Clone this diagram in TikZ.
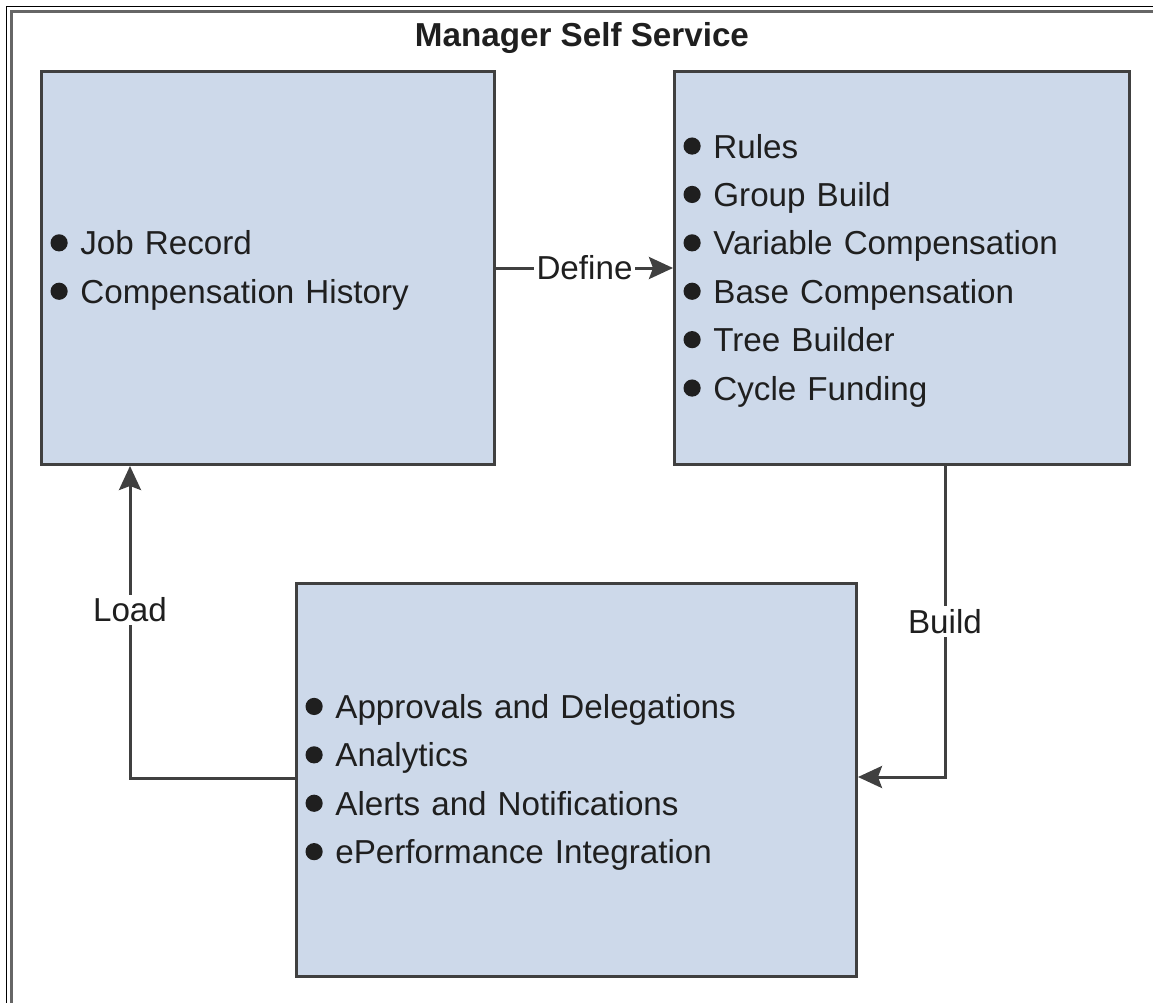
\documentclass[tikz,border=0pt]{standalone}
\usepackage{fontspec}
\setmainfont{Liberation Sans}
\usepackage{xcolor}
\usetikzlibrary{arrows.meta}

\definecolor{boxblue}{RGB}{205,217,234}
\definecolor{edgegray}{RGB}{64,64,64}
\newcommand{\bul}{\makebox[0.9em][l]{\tikz[baseline=-6pt]\fill[black!88] (4.3pt,0pt) circle[radius=4.3pt];}}
\newcommand{\topgap}{\rule{0pt}{14.5pt}}

\begin{document}
\begin{tikzpicture}[x=0.5pt,y=-0.5pt,
    every node/.style={font=\fontsize{16.6pt}{24.2pt}\selectfont, text=black!88},
    panel/.style={draw=edgegray, line width=1.5pt, fill=boxblue, align=left,
      inner xsep=4.5pt, minimum height=196.5pt, anchor=north west},
    flow/.style={draw=edgegray, line width=1.5pt,
      -{Stealth[length=12pt,width=11pt,inset=2pt]}},
    lbl/.style={fill=white, inner sep=1.5pt}]
    \useasboundingbox (0,0) rectangle (1153,1003);
    \draw[line width=0.5pt, black] (1153,6.5) -- (6.5,6.5) -- (6.5,1003);
    \draw[line width=1.5pt, black!60] (1153,11.5) -- (11.5,11.5) -- (11.5,1003);
    \node[font=\fontsize{16.6pt}{24.2pt}\selectfont\bfseries, anchor=base] (title) at (582,46) {Manager Self Service};

    \node[panel, text width=217.5pt] (record) at (40,70)
      {\topgap\bul Job Record\\ \bul Compensation History};
    \node[panel, text width=218.5pt] (plan) at (673,70)
      {\topgap\bul Rules\\ \bul Group Build\\ \bul Variable Compensation\\
       \bul Base Compensation\\ \bul Tree Builder\\ \bul Cycle Funding};
    \node[panel, text width=271pt] (manage) at (295,582)
      {\topgap\bul Approvals and Delegations\\ \bul Analytics\\
       \bul Alerts and Notifications\\ \bul ePerformance Integration};

    \coordinate (bturn) at (945,777);
    \coordinate (lturn) at (130,778.5);
    \draw[flow] (record) -- node[lbl] {Define} (plan);
    \draw[flow] (plan.south -| bturn) -- node[lbl] {Build} (bturn) -- (manage.east |- bturn);
    \draw[flow] (manage.west |- lturn) -- (lturn) -- node[lbl, pos=0.54] {Load} (record.south -| lturn);
  \end{tikzpicture}
\end{document}
